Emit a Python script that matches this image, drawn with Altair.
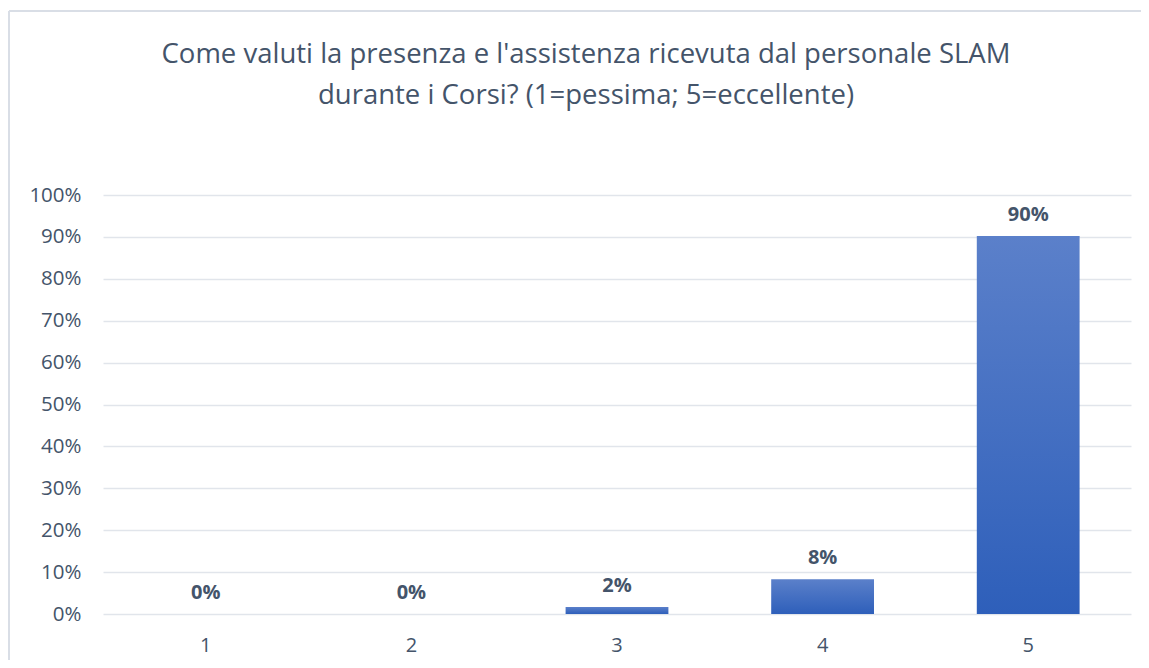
import altair as alt
import pandas as pd

categories = ["1", "2", "3", "4", "5"]
values = [0.0, 0.0, 0.017, 0.083, 0.902]
labels = ["0%", "0%", "2%", "8%", "90%"]

df = pd.DataFrame({"cat": categories, "val": values, "lab": labels})

TXT = "#44546a"
FONT = "Open Sans"

x_enc = alt.X("cat:N", sort=categories,
              scale=alt.Scale(paddingInner=0.5, paddingOuter=0.25),
              axis=alt.Axis(title=None, labelAngle=0, domain=False, ticks=False,
                            labelPadding=21, labelFontSize=20, labelColor=TXT,
                            labelFont=FONT, grid=False))
y_enc = alt.Y("val:Q", scale=alt.Scale(domain=[0, 1]),
              axis=alt.Axis(title=None, format=".0%", values=[i / 10 for i in range(11)],
                            domain=False, ticks=False, labelPadding=22,
                            labelFontSize=20.5, labelColor=TXT, labelFont=FONT,
                            gridColor="#e1e5eb", gridWidth=1.5))

bars = alt.Chart(df).mark_bar(
    color=alt.Gradient(
        gradient="linear",
        stops=[alt.GradientStop(color="#5b80ca", offset=0),
               alt.GradientStop(color="#2e5fba", offset=1)],
        x1=0, x2=0, y1=0, y2=1),
).encode(x=x_enc, y=y_enc)

text = alt.Chart(df).mark_text(
    baseline="bottom", dy=-11, fontSize=20, fontWeight="bold", color=TXT, font=FONT
).encode(x=alt.X("cat:N", sort=categories), y="val:Q", text="lab:N")

border = alt.Chart(df).mark_rule(color="#d9dee6", strokeWidth=1.5).encode(
    x=alt.value(-94), x2=alt.value(1200), y=alt.value(-184))
border_l = alt.Chart(df).mark_rule(color="#d9dee6", strokeWidth=1.5).encode(
    x=alt.value(-94), y=alt.value(-184), y2=alt.value(480))

chart = alt.layer(border, border_l, bars, text).properties(
    width=1028, height=419,
    padding={"left": 95, "top": 187, "right": 10, "bottom": 46},
    autosize=alt.AutoSizeParams(type="none"),
    title=alt.TitleParams(
        text=["Come valuti la presenza e l'assistenza ricevuta dal personale SLAM",
              "durante i Corsi? (1=pessima; 5=eccellente)"],
        anchor="middle", frame="group", dx=-31, offset=-99, fontSize=27.5,
        fontWeight="normal", color=TXT, font=FONT, lineHeight=41),
).configure_view(stroke=None)

chart.save("out.html", embed_options={"renderer": "svg", "actions": False})
